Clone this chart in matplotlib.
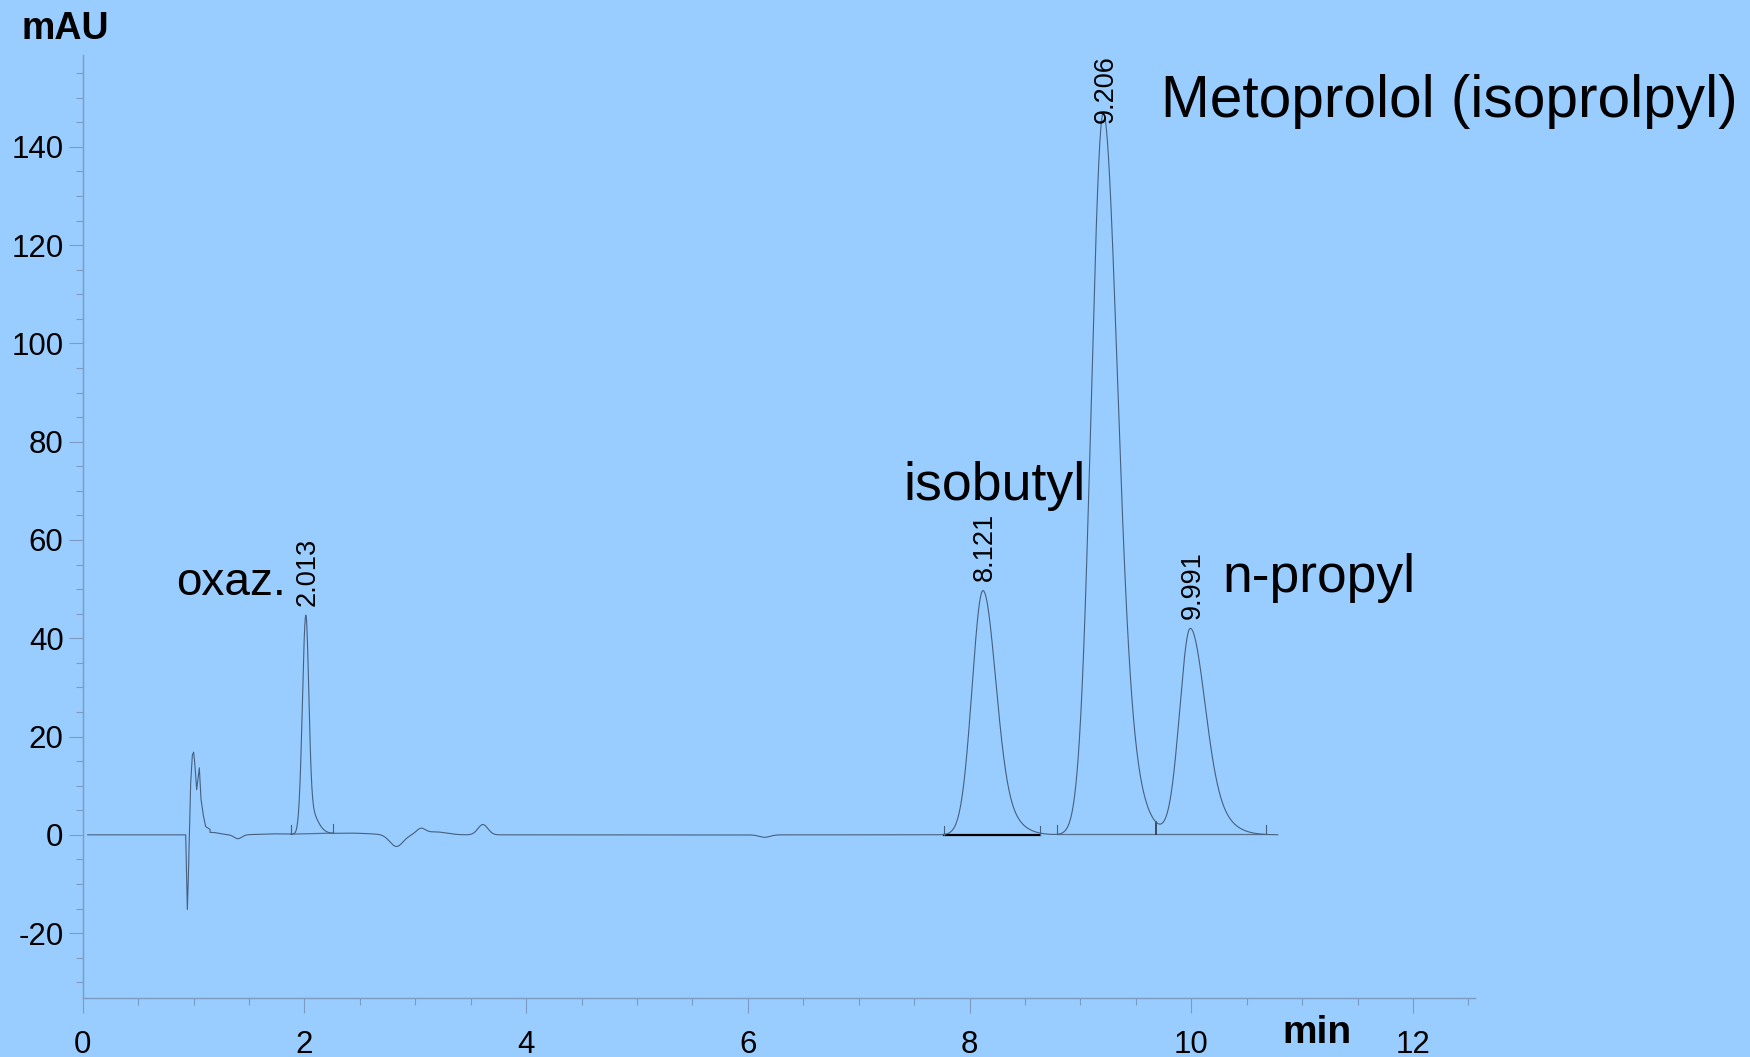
import numpy as np
import matplotlib
matplotlib.use("Agg")
import matplotlib.pyplot as plt
from matplotlib.ticker import MultipleLocator

plt.rcParams["font.family"] = ["Liberation Sans", "DejaVu Sans"]

# ---- peak table -------------------------------------------------------------
peak_labels = ["2.013", "8.121", "9.206", "9.991"]
peak_rt = [2.013, 8.121, 9.206, 9.991]            # min
peak_height = [44.6, 49.7, 146.9, 42.0]           # mAU
peak_sigma_left = [0.031, 0.098, 0.107, 0.095]    # min
peak_sigma_right = [0.026, 0.110, 0.120, 0.125]   # min
peak_tail_frac = [0.15, 0.20, 0.27, 0.25]
peak_tail_sigma = [0.08, 0.20, 0.20, 0.22]        # min

# ---- baseline drift features (centre min, amplitude mAU, width min) ---------
drift_t = [1.16, 1.40, 1.75, 2.40, 2.83, 3.05, 3.18, 3.61, 6.15]
drift_amp = [0.5, -0.8, 0.2, 0.35, -2.4, 1.1, 0.6, 2.1, -0.5]
drift_w = [0.07, 0.035, 0.15, 0.20, 0.06, 0.04, 0.10, 0.045, 0.05]

# ---- injection disturbance (min, mAU) ---------------------------------------
inj_t = [0.929, 0.944, 0.953, 0.974, 0.989, 1.001, 1.013, 1.028,
         1.052, 1.067, 1.088, 1.109, 1.149]
inj_v = [0.0, -15.2, -8.5, 10.5, 16.2, 16.8, 13.9, 9.1,
         13.5, 7.1, 3.7, 1.3, 0.6]

# ---- integration events (start, end, level at start, level at end) ----------
int_start = [1.877, 7.765, 8.785]
int_end = [2.261, 8.635, 10.675]
int_level_start = [0.15, -0.1, 0.15]
int_level_end = [0.35, -0.1, 0.15]
int_colors = ["#56708c", "#000000", "#56708c"]
int_widths = [0.9, 1.6, 0.9]
valley_drop_t = [9.685]

run_start, run_end = 0.045, 10.78

# ---- axis setup -------------------------------------------------------------
x_major = [0, 2, 4, 6, 8, 10, 12]
y_major = [-20, 0, 20, 40, 60, 80, 100, 120, 140]
xlim = (0, 12.56)
ylim = (-33.2, 158.7)

bg = "#99ccff"
axis_col = "#7d9bc1"
trace_col = "#46607e"


def peak_shape(t, rt, h, sl, sr, f, st):
    d = t - rt
    left = h * np.exp(-0.5 * (d / sl) ** 2)
    right = h * ((1 - f) * np.exp(-0.5 * (d / sr) ** 2)
                 + f * np.exp(-0.5 * (d / st) ** 2))
    return np.where(d < 0, left, right)


def signal(t):
    y = np.zeros_like(t)
    for c, a, w in zip(drift_t, drift_amp, drift_w):
        y += a * np.exp(-0.5 * ((t - c) / w) ** 2)
    for p in zip(peak_rt, peak_height, peak_sigma_left, peak_sigma_right,
                 peak_tail_frac, peak_tail_sigma):
        y += peak_shape(t, *p)
    return y


grid = np.linspace(run_start, run_end, 6000)
before = grid[grid < inj_t[0]]
after = grid[grid > inj_t[-1]]
t_all = np.concatenate([before, inj_t, after])
v_all = signal(t_all) + np.concatenate([np.zeros(len(before)), inj_v,
                                        np.zeros(len(after))])

fig = plt.figure(figsize=(17.5, 10.57), dpi=100, facecolor=bg)
ax = fig.add_axes([0.04726, 0.05582, 0.8429 - 0.04726, 0.9480 - 0.05582])
ax.set_facecolor(bg)

ax.plot(t_all, v_all, color=trace_col, lw=0.8, zorder=3)

# integration baselines with start/end marks
for s, e, ls, le, c, w in zip(int_start, int_end, int_level_start,
                              int_level_end, int_colors, int_widths):
    ax.plot([s, e], [ls, le], color=c, lw=w, zorder=2)
    ax.plot([s, s], [ls, ls + 1.8], color=trace_col, lw=0.8, zorder=2)
    ax.plot([e, e], [le, le + 1.8], color=trace_col, lw=0.8, zorder=2)
for vt in valley_drop_t:
    ax.plot([vt, vt], [0.15, signal(np.array([vt]))[0]],
            color="#1f2a38", lw=1.1, zorder=2)

# retention time labels
for lab, rt, h in zip(peak_labels, peak_rt, peak_height):
    if h + 15 > ylim[1]:
        ax.text(rt + 0.02, ylim[1], lab, rotation=90, ha="center", va="top",
                fontsize=19.5)
    else:
        ax.text(rt + 0.02, h + 2.0, lab, rotation=90, ha="center",
                va="bottom", fontsize=19.5)

# compound names
ax.text(0.842, 48.8, "oxaz.", fontsize=33, va="baseline", ha="left")
ax.text(7.40, 68.1, "isobutyl", fontsize=38.6, va="baseline", ha="left")
ax.text(10.28, 49.5, "n-propyl", fontsize=38.4, va="baseline", ha="left")
ax.text(9.726, 146.1, "Metoprolol (isoprolpyl)", fontsize=42.2,
        va="baseline", ha="left", clip_on=False)

ax.set_xlim(*xlim)
ax.set_ylim(*ylim)
ax.set_xticks(x_major)
ax.set_xticklabels([str(v) for v in x_major])
ax.set_yticks(y_major)
ax.set_yticklabels([str(v) for v in y_major])
ax.xaxis.set_minor_locator(MultipleLocator(0.5))
ax.yaxis.set_minor_locator(MultipleLocator(5))

for side in ("top", "right"):
    ax.spines[side].set_visible(False)
for side in ("left", "bottom"):
    ax.spines[side].set_color(axis_col)
    ax.spines[side].set_linewidth(1.0)

ax.tick_params(axis="both", which="both", color=axis_col, width=0.8,
               direction="out", labelsize=22.5, labelcolor="black")
ax.tick_params(axis="x", which="major", length=10.8, pad=12)
ax.tick_params(axis="x", which="minor", length=5)
ax.tick_params(axis="y", which="major", length=10.3, pad=3.5)
ax.tick_params(axis="y", which="minor", length=4.8)

fig.text(0.0125, 0.9628, "mAU", fontsize=27, fontweight="bold",
         va="baseline", ha="left")
fig.text(0.733, 0.01293, "min", fontsize=28, fontweight="bold",
         va="baseline", ha="left")

fig.savefig("out.png", dpi=100, facecolor=bg)
